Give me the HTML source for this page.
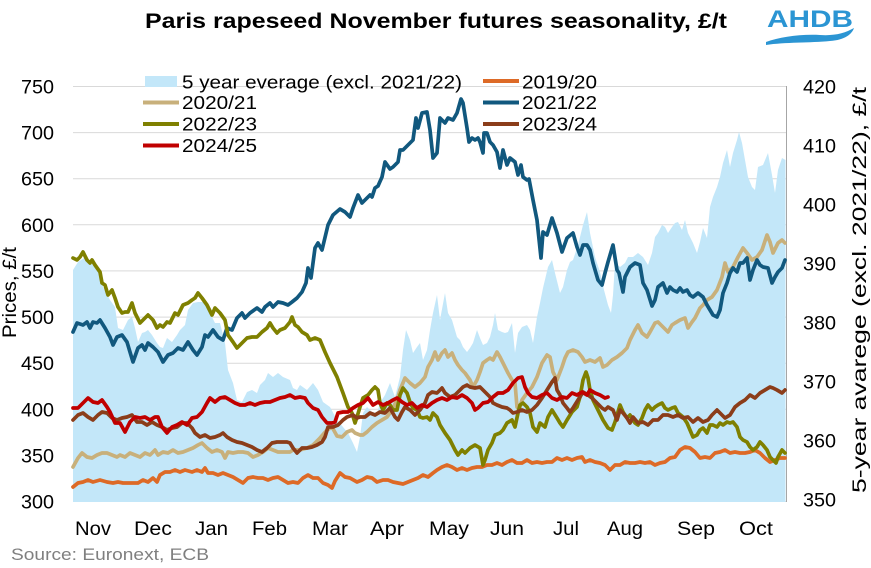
<!DOCTYPE html>
<html>
<head>
<meta charset="utf-8">
<style>
  html,body{margin:0;padding:0;background:#fff;}
  svg{display:block;}
  text{font-family:"Liberation Sans",Arial,sans-serif;}
</style>
</head>
<body>
<svg width="871" height="568" viewBox="0 0 871 568" xmlns="http://www.w3.org/2000/svg">
  <rect width="871" height="568" fill="#fff"/>

  <!-- Title -->
  <text x="145" y="28" font-size="21.5" font-weight="bold" fill="#000" textLength="582" lengthAdjust="spacingAndGlyphs">Paris rapeseed November futures seasonality, £/t</text>

  <!-- AHDB logo -->
  <text x="767" y="27" font-size="24" font-weight="bold" fill="#2b95d3" textLength="86" lengthAdjust="spacingAndGlyphs">AHDB</text>
  <path d="M766,42 C780,37 800,34 820,35 C835,36 845,33 854,28 C852,34 845,40 830,41 C810,43 785,42 766,45 Z" fill="#2b95d3"/>

  <!-- gridlines -->
  <g stroke="#d9d9d9" stroke-width="1">
    <line x1="73" y1="86.5" x2="786" y2="86.5"/>
    <line x1="73" y1="132.6" x2="786" y2="132.6"/>
    <line x1="73" y1="178.7" x2="786" y2="178.7"/>
    <line x1="73" y1="224.8" x2="786" y2="224.8"/>
    <line x1="73" y1="270.9" x2="786" y2="270.9"/>
    <line x1="73" y1="317.1" x2="786" y2="317.1"/>
    <line x1="73" y1="363.2" x2="786" y2="363.2"/>
    <line x1="73" y1="409.3" x2="786" y2="409.3"/>
    <line x1="73" y1="455.4" x2="786" y2="455.4"/>
    <line x1="73" y1="501.5" x2="786" y2="501.5"/>
  </g>

  <!-- 5 year average area -->
  <polygon fill="#c3e7f9" points="73,270 78,262 84,258 90,263 95,266 100,275 103,287 110,300 115,307 118,328 123,330 128,320 132,317 135,328 138,342 142,333 145,332 148,330 152,335 157,343 160,347 163,348 167,338 172,342 177,335 180,330 185,325 188,310 193,303 198,302 203,302 207,307 210,313 215,323 220,323 225,343 228,370 233,383 237,400 242,402 247,392 252,390 257,393 260,385 265,380 268,373 273,377 278,373 283,377 290,380 293,388 297,390 300,385 307,390 313,383 318,390 323,402 330,407 337,420 343,427 348,433 353,443 357,452 360,437 363,413 367,407 372,412 377,413 380,403 385,395 390,383 395,397 400,377 403,350 406,330 410,340 413,353 417,347 420,343 423,360 427,350 430,330 433,313 437,295 440,320 445,293 448,313 452,320 457,337 460,340 463,347 467,352 470,348 473,343 477,330 480,338 483,345 487,343 490,337 493,325 495,313 498,330 502,332 505,333 508,332 512,323 515,353 518,333 522,327 527,325 530,330 533,343 537,317 540,303 543,288 548,267 552,260 555,273 560,293 563,287 567,270 570,262 573,260 578,245 583,225 587,212 590,233 595,257 600,272 604,290 608,305 611,313 613,295 615,263 620,267 625,263 628,257 633,257 638,253 643,257 648,265 652,253 655,237 658,233 662,225 665,227 668,233 672,227 675,223 678,222 682,230 685,220 688,233 693,243 697,253 700,242 703,228 707,238 710,207 713,197 717,187 720,177 723,163 727,150 730,167 733,153 737,140 739,132 742,143 745,160 748,177 752,187 755,190 758,167 763,165 768,153 772,175 775,193 778,170 782,158 785.5,160 785.5,502 73,502"/>

  <!-- right axis line -->
  <line x1="786.5" y1="86" x2="786.5" y2="502" stroke="#a6a6a6" stroke-width="1"/>

  <g fill="none" stroke-width="3.7" stroke-linejoin="round" stroke-linecap="round">
    <!-- 2019/20 -->
    <polyline stroke="#dd6a27" points="73,487 78,483 83,482 88,480 93,482 100,480 107,482 113,483 118,482 123,483 128,483 133,483 138,483 143,480 148,482 153,478 157,482 160,475 165,472 170,472 175,470 180,472 185,470 192,472 197,470 202,472 205,468 208,473 213,473 218,475 223,473 228,475 233,477 238,480 243,483 248,478 253,477 258,478 263,478 268,480 273,478 278,477 283,480 288,483 293,482 298,483 303,478 308,475 313,478 318,478 323,483 328,485 332,488 335,481 340,473 345,477 350,478 357,482 362,480 367,477 372,478 377,482 383,480 388,480 393,482 398,483 403,484 408,482 413,480 418,478 423,475 428,477 433,473 437,470 442,467 447,465 452,467 457,470 462,468 467,470 472,468 477,467 482,467 487,465 492,465 497,463 502,465 507,462 512,460 517,463 522,463 527,460 532,463 537,462 542,463 547,462 552,462 557,458 562,460 567,458 572,460 577,458 582,457 585,462 590,460 595,462 600,463 605,465 610,470 615,465 620,465 625,462 630,463 635,463 640,462 645,463 650,462 655,465 660,463 665,462 670,458 675,457 680,450 685,447 690,448 695,452 700,458 705,457 710,458 715,453 720,452 725,450 730,453 735,452 740,453 745,453 750,452 755,450 760,453 765,458 770,462 775,460 780,458 785,458"/>
    <!-- 2020/21 -->
    <polyline stroke="#c8b07b" points="73,467 78,458 82,453 87,457 92,458 97,455 102,453 107,453 112,455 117,457 120,455 125,457 130,453 135,455 140,457 145,453 150,455 155,450 158,455 163,452 168,453 173,450 178,453 183,452 188,450 193,448 198,445 202,443 207,448 212,452 217,450 222,452 225,458 228,452 233,453 238,452 243,452 248,453 253,457 258,455 263,452 268,448 273,450 278,452 283,452 290,452 293,450 300,450 307,448 313,445 320,438 327,430 332,427 337,436 342,437 347,432 352,430 355,433 360,435 363,435 367,432 372,427 377,423 382,420 387,417 392,410 397,400 400,390 405,378 410,383 415,387 420,383 425,377 428,367 432,360 435,352 438,360 442,353 445,350 448,357 452,353 455,360 458,365 462,370 465,373 470,380 473,387 477,380 480,372 483,363 487,360 490,358 493,360 497,352 500,357 503,363 508,373 512,380 515,383 517,407 519,410 522,400 527,393 532,387 537,377 542,363 547,355 550,357 553,372 557,380 562,367 565,358 568,352 573,350 578,352 582,357 585,362 590,360 595,362 600,358 603,367 607,365 612,360 617,357 622,353 627,348 630,340 635,330 638,325 642,333 647,337 650,332 655,323 658,322 663,327 668,332 672,325 675,323 680,320 685,318 688,328 692,322 695,318 700,308 703,305 707,300 712,297 717,290 722,277 725,263 728,272 733,267 738,257 743,248 747,253 752,260 757,257 762,250 767,235 770,242 773,253 778,243 782,240 785,243"/>
    <!-- 2021/22 -->
    <polyline stroke="#11587e" points="73,332 77,323 83,325 87,322 90,328 93,322 97,323 100,320 105,328 110,337 113,345 117,337 122,335 127,342 133,362 138,348 142,345 145,350 148,343 153,347 158,352 163,362 168,355 173,353 178,348 183,350 188,342 193,350 197,355 202,347 205,335 208,337 213,330 218,337 223,340 227,328 232,330 237,318 242,313 245,318 250,313 257,308 262,312 265,307 270,303 273,307 278,302 283,303 288,305 292,302 297,298 302,292 306,283 308,268 311,278 315,248 318,243 322,250 328,225 333,215 340,209 345,212 350,217 353,208 358,195 362,203 367,198 370,195 372,197 375,188 378,186 382,177 385,162 390,169 393,167 398,162 400,150 403,150 408,145 413,140 416,118 418,128 422,113 427,112 430,130 433,158 437,153 440,118 445,123 448,118 453,120 457,113 461,99 463,103 467,128 469,142 472,138 475,140 478,138 480,142 483,153 484,133 487,133 490,142 493,145 497,152 500,168 503,150 507,165 510,158 515,162 518,175 521,165 523,177 527,180 529,179 533,200 537,220 541,258 543,232 547,235 552,218 557,233 562,252 567,238 573,233 577,247 580,255 583,245 587,245 590,250 593,263 598,280 602,285 605,273 608,262 613,245 617,270 619,273 623,292 625,277 630,267 635,263 640,265 643,283 647,290 652,306 655,300 658,287 663,283 667,293 670,287 673,290 677,292 680,288 683,292 687,290 690,295 693,297 698,293 703,297 707,305 713,315 717,317 720,310 723,293 727,283 730,273 733,268 737,272 740,263 743,263 747,258 750,280 753,270 757,260 760,265 763,267 768,268 772,283 775,277 778,272 782,268 785,260"/>
    <!-- 2022/23 -->
    <polyline stroke="#7f8000" points="73,258 77,260 80,257 83,252 87,260 90,263 92,260 95,265 100,272 102,283 105,285 108,295 112,290 115,298 118,307 122,313 125,312 128,312 132,303 135,313 140,323 143,320 148,315 153,320 157,328 160,325 163,327 167,322 170,323 175,313 178,315 183,305 188,303 192,300 195,298 198,293 202,298 207,305 212,315 215,308 220,313 225,320 228,335 233,342 237,348 242,343 247,338 252,337 257,337 262,332 267,328 270,323 273,328 277,333 280,330 285,328 290,322 292,317 295,325 298,327 302,332 307,335 310,340 315,338 320,340 325,352 330,363 337,377 343,393 348,407 352,413 355,423 357,417 360,407 363,398 368,395 372,390 375,387 378,390 380,403 383,410 387,403 390,405 393,410 397,410 400,395 403,388 407,393 410,402 413,408 417,410 420,417 423,418 427,417 430,420 433,413 437,417 440,425 445,433 450,440 455,450 458,455 462,450 465,453 470,448 475,445 480,448 483,465 485,460 488,450 492,443 495,435 500,433 503,430 507,423 512,420 515,427 518,413 520,405 523,403 527,407 530,413 533,427 537,432 540,423 545,427 548,417 552,410 557,418 560,423 563,427 567,420 572,412 577,407 580,397 583,380 586,372 588,378 590,390 593,400 598,410 603,420 608,428 612,430 615,422 620,405 623,412 627,418 630,415 635,423 638,425 642,418 645,410 648,405 652,410 655,407 658,405 662,403 665,408 668,410 672,408 675,407 678,413 683,417 687,423 690,430 693,437 697,435 700,430 703,428 707,433 710,425 713,425 717,427 720,423 723,425 727,422 730,423 733,422 737,427 740,437 743,440 747,442 750,447 753,450 757,447 760,442 763,445 767,450 770,457 773,460 776,463 778,457 782,450 785,453"/>
    <!-- 2023/24 -->
    <polyline stroke="#8b3d1a" points="73,420 78,415 83,413 88,417 93,420 98,415 102,412 107,413 112,418 117,420 122,418 127,417 132,415 137,422 142,422 147,425 152,422 157,425 162,427 167,430 172,428 177,427 182,423 187,423 192,428 195,433 200,437 205,435 210,438 215,437 220,435 223,433 227,437 232,440 237,442 242,443 247,445 252,447 257,450 262,452 267,448 272,443 277,442 282,442 287,442 290,443 293,448 297,453 302,448 307,448 312,447 317,445 322,442 325,437 328,427 333,427 338,425 343,420 347,417 353,415 357,418 360,417 365,417 370,413 375,415 380,412 385,413 390,408 395,417 398,420 402,412 405,407 410,410 415,415 420,410 425,403 428,395 432,392 437,393 442,388 445,393 450,397 455,395 460,390 463,387 467,385 470,387 475,388 480,387 485,392 490,397 493,403 497,405 502,407 507,408 510,410 513,413 517,412 522,410 527,412 532,410 537,405 542,398 547,390 552,382 555,378 557,390 560,395 563,403 567,408 570,412 573,408 578,400 583,392 588,395 592,398 597,403 602,408 605,410 608,407 613,410 617,420 620,410 623,413 627,418 630,423 633,417 638,423 643,422 648,425 653,420 658,420 663,415 668,415 673,417 678,415 683,418 688,417 693,422 698,418 703,422 708,420 712,415 717,410 722,415 725,418 730,415 735,407 740,403 745,400 750,395 755,398 760,393 765,390 770,387 773,388 777,390 782,393 785,390"/>
    <!-- 2024/25 -->
    <polyline stroke="#c00000" points="73,408 78,408 83,403 88,398 93,402 98,403 102,400 107,407 110,412 115,423 120,423 125,432 130,422 135,417 140,418 145,417 150,420 155,417 158,417 162,427 167,433 172,427 177,425 182,422 187,425 192,418 197,417 202,412 207,403 210,398 215,402 220,398 225,397 230,400 235,403 240,405 245,405 250,403 255,405 260,403 265,402 270,402 275,400 280,398 285,397 290,395 295,398 300,397 305,398 308,403 313,408 318,410 322,417 327,423 332,423 335,422 338,413 343,412 348,412 353,408 358,405 363,403 368,398 373,405 378,402 383,405 388,403 393,400 397,398 402,402 407,405 412,403 417,408 422,405 427,407 432,403 437,400 442,398 447,400 452,397 457,398 462,395 467,398 472,403 475,410 478,408 483,403 488,402 493,397 498,393 503,393 508,390 513,383 518,378 522,377 525,387 528,393 532,397 537,398 542,395 547,393 552,398 557,400 562,397 567,398 572,393 577,395 582,392 587,395 590,390 595,393 600,395 605,398 608,397"/>
  </g>

  <!-- Legend -->
  <rect x="145" y="76" width="32" height="11" fill="#c3e7f9"/>
  <g stroke-width="4" stroke-linecap="butt">
    <line x1="143" y1="102.5" x2="179" y2="102.5" stroke="#c8b07b"/>
    <line x1="143" y1="124" x2="179" y2="124" stroke="#7f8000"/>
    <line x1="143" y1="145.5" x2="179" y2="145.5" stroke="#c00000"/>
    <line x1="483" y1="81" x2="519" y2="81" stroke="#dd6a27"/>
    <line x1="483" y1="102.5" x2="519" y2="102.5" stroke="#11587e"/>
    <line x1="483" y1="124" x2="519" y2="124" stroke="#8b3d1a"/>
  </g>
  <g font-size="18.5" fill="#000">
    <text x="182" y="88.5" textLength="280" lengthAdjust="spacingAndGlyphs">5 year everage (excl. 2021/22)</text>
    <text x="182" y="109" textLength="75" lengthAdjust="spacingAndGlyphs">2020/21</text>
    <text x="182" y="130.5" textLength="75" lengthAdjust="spacingAndGlyphs">2022/23</text>
    <text x="182" y="152" textLength="75" lengthAdjust="spacingAndGlyphs">2024/25</text>
    <text x="522" y="88.5" textLength="75" lengthAdjust="spacingAndGlyphs">2019/20</text>
    <text x="522" y="109" textLength="75" lengthAdjust="spacingAndGlyphs">2021/22</text>
    <text x="522" y="130.5" textLength="75" lengthAdjust="spacingAndGlyphs">2023/24</text>
  </g>

  <!-- Left axis tick labels -->
  <g font-size="19" fill="#000" text-anchor="end">
    <text x="54" y="93.5" textLength="33" lengthAdjust="spacingAndGlyphs">750</text>
    <text x="54" y="139.6" textLength="33" lengthAdjust="spacingAndGlyphs">700</text>
    <text x="54" y="185.7" textLength="33" lengthAdjust="spacingAndGlyphs">650</text>
    <text x="54" y="231.8" textLength="33" lengthAdjust="spacingAndGlyphs">600</text>
    <text x="54" y="277.9" textLength="33" lengthAdjust="spacingAndGlyphs">550</text>
    <text x="54" y="324.1" textLength="33" lengthAdjust="spacingAndGlyphs">500</text>
    <text x="54" y="370.2" textLength="33" lengthAdjust="spacingAndGlyphs">450</text>
    <text x="54" y="416.3" textLength="33" lengthAdjust="spacingAndGlyphs">400</text>
    <text x="54" y="462.4" textLength="33" lengthAdjust="spacingAndGlyphs">350</text>
    <text x="54" y="508.5" textLength="33" lengthAdjust="spacingAndGlyphs">300</text>
  </g>

  <!-- Right axis tick labels -->
  <g font-size="19" fill="#000">
    <text x="803" y="93.5" textLength="33" lengthAdjust="spacingAndGlyphs">420</text>
    <text x="803" y="152.5" textLength="33" lengthAdjust="spacingAndGlyphs">410</text>
    <text x="803" y="211.5" textLength="33" lengthAdjust="spacingAndGlyphs">400</text>
    <text x="803" y="270.5" textLength="33" lengthAdjust="spacingAndGlyphs">390</text>
    <text x="803" y="329.5" textLength="33" lengthAdjust="spacingAndGlyphs">380</text>
    <text x="803" y="388.5" textLength="33" lengthAdjust="spacingAndGlyphs">370</text>
    <text x="803" y="447.5" textLength="33" lengthAdjust="spacingAndGlyphs">360</text>
    <text x="803" y="506.5" textLength="33" lengthAdjust="spacingAndGlyphs">350</text>
  </g>

  <!-- X axis labels -->
  <g font-size="19" fill="#000" text-anchor="middle">
    <text x="93" y="535" textLength="36" lengthAdjust="spacingAndGlyphs">Nov</text>
    <text x="153" y="535" textLength="38" lengthAdjust="spacingAndGlyphs">Dec</text>
    <text x="211.5" y="535" textLength="33" lengthAdjust="spacingAndGlyphs">Jan</text>
    <text x="269.5" y="535" textLength="35" lengthAdjust="spacingAndGlyphs">Feb</text>
    <text x="330" y="535" textLength="36" lengthAdjust="spacingAndGlyphs">Mar</text>
    <text x="387" y="535" textLength="34" lengthAdjust="spacingAndGlyphs">Apr</text>
    <text x="449" y="535" textLength="40" lengthAdjust="spacingAndGlyphs">May</text>
    <text x="507" y="535" textLength="34" lengthAdjust="spacingAndGlyphs">Jun</text>
    <text x="566" y="535" textLength="26" lengthAdjust="spacingAndGlyphs">Jul</text>
    <text x="625" y="535" textLength="36" lengthAdjust="spacingAndGlyphs">Aug</text>
    <text x="696" y="535" textLength="38" lengthAdjust="spacingAndGlyphs">Sep</text>
    <text x="756" y="535" textLength="34" lengthAdjust="spacingAndGlyphs">Oct</text>
  </g>

  <!-- Axis titles -->
  <text transform="translate(16,292.5) rotate(-90)" font-size="19" fill="#000" text-anchor="middle" textLength="91" lengthAdjust="spacingAndGlyphs">Prices, £/t</text>
  <text transform="translate(866,290) rotate(-90)" font-size="19" fill="#000" text-anchor="middle" textLength="406" lengthAdjust="spacingAndGlyphs">5-year avarege (excl. 2021/22), £/t</text>

  <!-- Source -->
  <text x="11" y="560" font-size="17" fill="#7f7f7f" textLength="198" lengthAdjust="spacingAndGlyphs">Source: Euronext, ECB</text>
</svg>
</body>
</html>
